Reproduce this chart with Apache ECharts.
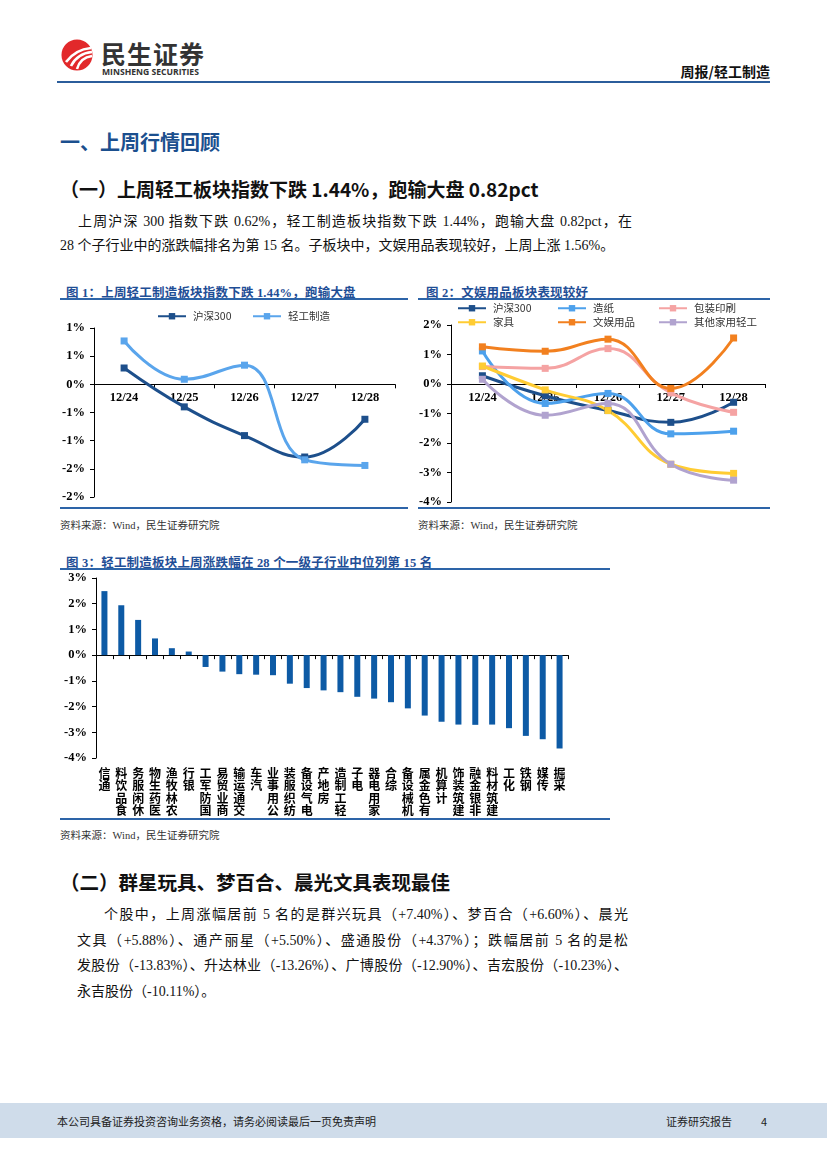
<!DOCTYPE html>
<html><head><meta charset="utf-8">
<script src="https://cdn.jsdelivr.net/npm/echarts@6/dist/echarts.min.js"></script>
<style>
html,body{margin:0;padding:0;background:#fff;}
#page{position:relative;width:827px;height:1169px;overflow:hidden;font-family:"Liberation Serif","Noto Sans CJK SC",serif;color:#111;}
.abs{position:absolute;white-space:nowrap;}
.hd{font-family:"Noto Sans CJK SC",sans-serif;font-weight:bold;}
.p{font-size:14px;line-height:17px;}
.j{text-align:justify;text-align-last:justify;white-space:normal;}
.ct{font-family:"Liberation Serif","Noto Sans CJK SC",serif;font-weight:bold;font-size:12.5px;letter-spacing:0.2px;color:#1f4e96;}
.src{font-size:10.5px;color:#333;}
.ln{position:absolute;height:2px;background:#2d64a8;}
#chart{position:absolute;left:0;top:0;width:827px;height:1169px;}
</style></head>
<body><div id="page">
<svg class="abs" style="left:60px;top:38px" width="36" height="36" viewBox="0 0 36 36">
<circle cx="17" cy="17" r="15.5" fill="#e2292b"/>
<path d="M6 24 C12 16 20 11 31 10" stroke="#fff" stroke-width="2.6" fill="none"/>
<path d="M11 28 C15 20 22 15 32 14" stroke="#fff" stroke-width="2.6" fill="none"/>
<path d="M17 31 C19 24 24 19 32 18" stroke="#fff" stroke-width="2.6" fill="none"/>
</svg>
<div class="abs hd" style="left:101px;top:35px;font-size:25px;letter-spacing:1px;color:#333;">民生证券</div>
<div class="abs" style="left:102px;top:66px;font-family:'Open Sans',sans-serif;font-weight:bold;font-size:8.6px;color:#333;">MINSHENG SECURITIES</div>
<div class="abs hd" style="right:57px;top:61px;font-size:14px;color:#111;">周报/轻工制造</div>
<div class="ln" style="left:57px;top:81px;width:713px;background:#2b5d9b;"></div>

<div class="abs hd" style="left:60px;top:127px;font-size:20px;color:#1b4f8e;">一、上周行情回顾</div>
<div class="abs hd" style="left:60px;top:175px;font-size:19px;color:#111;">（一）上周轻工板块指数下跌 1.44%，跑输大盘 0.82pct</div>
<div class="abs p j" style="left:78px;top:213px;width:554px;">上周沪深 300 指数下跌 0.62%，轻工制造板块指数下跌 1.44%，跑输大盘 0.82pct，在</div>
<div class="abs p" style="left:60px;top:237px;">28 个子行业中的涨跌幅排名为第 15 名。子板块中，文娱用品表现较好，上周上涨 1.56%。</div>

<div class="abs ct" style="left:66px;top:282px;">图 1：上周轻工制造板块指数下跌 1.44%，跑输大盘</div>
<div class="ln" style="left:60px;top:298px;width:348px;"></div>
<div class="ln" style="left:60px;top:507px;width:348px;"></div>
<div class="abs src" style="left:60px;top:517px;">资料来源：Wind，民生证券研究院</div>

<div class="abs ct" style="left:426px;top:282px;">图 2：文娱用品板块表现较好</div>
<div class="ln" style="left:418px;top:298px;width:352px;"></div>
<div class="ln" style="left:418px;top:507px;width:352px;"></div>
<div class="abs src" style="left:418px;top:517px;">资料来源：Wind，民生证券研究院</div>

<div class="abs ct" style="left:66px;top:552px;">图 3：轻工制造板块上周涨跌幅在 28 个一级子行业中位列第 15 名</div>
<div class="ln" style="left:60px;top:568px;width:550px;"></div>
<div class="ln" style="left:60px;top:818px;width:550px;"></div>
<div class="abs src" style="left:60px;top:827px;">资料来源：Wind，民生证券研究院</div>

<div class="abs hd" style="left:60px;top:867px;font-size:19.5px;color:#111;">（二）群星玩具、梦百合、晨光文具表现最佳</div>
<div class="abs p j" style="left:104px;top:906px;width:524px;">个股中，上周涨幅居前 5 名的是群兴玩具（+7.40%）、梦百合（+6.60%）、晨光</div>
<div class="abs p j" style="left:77px;top:932px;width:551px;">文具（+5.88%）、通产丽星（+5.50%）、盛通股份（+4.37%）；跌幅居前 5 名的是松</div>
<div class="abs p j" style="left:77px;top:957px;width:551px;">发股份（-13.83%）、升达林业（-13.26%）、广博股份（-12.90%）、吉宏股份（-10.23%）、</div>
<div class="abs p" style="left:77px;top:983px;">永吉股份（-10.11%）。</div>

<div class="abs" style="left:0;top:1103px;width:827px;height:35px;background:#cfdcea;"></div>
<div class="abs" style="left:57px;top:1113px;font-family:'Noto Sans CJK SC',sans-serif;font-size:11px;color:#222;">本公司具备证券投资咨询业务资格，请务必阅读最后一页免责声明</div>
<div class="abs" style="left:666px;top:1113px;font-family:'Noto Sans CJK SC',sans-serif;font-size:11px;color:#222;">证券研究报告</div>
<div class="abs" style="left:761px;top:1113px;font-family:'Noto Sans CJK SC',sans-serif;font-size:11px;color:#222;">4</div>

<div id="chart"></div>
</div>
<script>
// ---- Data ----
const dates = ['12/24','12/25','12/26','12/27','12/28'];
const hs300 = [0.29, -0.40, -0.91, -1.29, -0.62];
const qgzz = [0.77, 0.09, 0.34, -1.34, -1.44];

const hs300b = [0.28, -0.40, -0.90, -1.30, -0.62];
const zaozhi = [1.12, -0.66, -0.32, -1.69, -1.60];
const baozhuang = [0.59, 0.53, 1.20, -0.30, -0.96];
const jiaju = [0.61, -0.20, -0.90, -2.72, -3.03];
const wenyu = [1.26, 1.11, 1.52, -0.15, 1.56];
const qita = [0.16, -1.06, -0.66, -2.72, -3.26];

const industries = ['通信','食品饮料','休闲服务','医药生物','农林牧渔','银行','国防军工','商业贸易','交通运输','汽车','公用事业','纺织服装','电气设备','房地产','轻工制造','电子','家用电器','综合','机械设备','有色金属','计算机','建筑装饰','非银金融','建筑材料','化工','钢铁','传媒','采掘'];
const industryChg = [2.49, 1.94, 1.37, 0.65, 0.27, 0.14, -0.46, -0.64, -0.74, -0.76, -0.78, -1.11, -1.28, -1.37, -1.44, -1.62, -1.69, -1.83, -2.07, -2.35, -2.59, -2.70, -2.71, -2.70, -2.84, -3.14, -3.27, -3.63];

// axis ranges
const y1Range = {min:-2, max:1, interval:0.5};
const y2Range = {min:-4, max:2, interval:1};
const y3Range = {min:-4, max:3, interval:1};

// ---- Layout ----
const grid1 = {left:94, top:328, width:301, height:169};
const grid2 = {left:451, top:325, width:314, height:177};
const grid3 = {left:96, top:578, width:472, height:180};
// put the category axis on the zero line (distance from grid bottom to value 0)
const zeroOffset = (g, r) => -g.height * (0 - r.min) / (r.max - r.min);

const axisFont = {fontFamily:'Liberation Serif', fontWeight:'bold', fontSize:12.5, color:'#000'};
const blk = {lineStyle:{color:'#000', width:1}};
function pct(v){ const r = Math.sign(v)*Math.round(Math.abs(v)); return (r===0?0:r) + '%'; }

function lineSeries(name, data, color, xi, yi){
  return {type:'line', name, data, xAxisIndex:xi, yAxisIndex:yi, smooth:0.45,
    symbol:'rect', symbolSize:7, showSymbol:true,
    lineStyle:{color, width:3}, itemStyle:{color}, z: 3};
}
function leg(name, left, top){
  return {data:[name], left, top, itemWidth:28, itemHeight:8, itemGap:0, padding:0,
    textStyle:{fontFamily:'Noto Sans CJK SC', fontSize:10.5, color:'#333', padding:[0,0,0,2]}};
}
function dateAxis(gi, g, r){
  return {type:'category', gridIndex:gi, data:dates, boundaryGap:true, position:'bottom',
    offset: zeroOffset(g, r),
    axisLine:{onZero:false, ...blk}, axisTick:{show:true, interval:0, length:4, lineStyle:{color:'#000'}},
    axisLabel:{...axisFont, margin:7}};
}
function valAxis(gi, r){
  return {type:'value', gridIndex:gi, ...r,
    axisLine:{show:true, ...blk}, axisTick:{show:true, length:4, lineStyle:{color:'#000'}},
    splitLine:{show:false}, axisLabel:{...axisFont, margin:9, formatter:pct}};
}

const chart = echarts.init(document.getElementById('chart'), null, {renderer:'canvas'});
chart.setOption({
  animation:false,
  backgroundColor:'transparent',
  legend:[
    leg('沪深300 ', 157, 311), leg('轻工制造', 252, 311),
    leg('沪深300', 457, 303), leg('造纸', 557, 303), leg('包装印刷', 658, 303),
    leg('家具', 457, 317), leg('文娱用品', 557, 317), leg('其他家用轻工', 658, 317)
  ],
  grid:[grid1, grid2, grid3],
  xAxis:[
    dateAxis(0, grid1, y1Range),
    dateAxis(1, grid2, y2Range),
    {type:'category', gridIndex:2, data:industries, position:'bottom',
     axisLine:{show:false, onZero:false}, axisTick:{show:false},
     axisLabel:{interval:0, margin:9, fontFamily:'Noto Sans CJK SC', fontWeight:'bold', fontSize:12, lineHeight:12.5, color:'#000',
       verticalAlign:'top', formatter:v=>v.split('').reverse().join('\n')}},
    {type:'category', gridIndex:2, data:industries, position:'bottom', offset: zeroOffset(grid3, y3Range),
     axisLine:{show:true, onZero:false, ...blk}, axisTick:{show:true, interval:0, length:4, lineStyle:{color:'#000'}},
     axisLabel:{show:false}}
  ],
  yAxis:[valAxis(0, y1Range), valAxis(1, y2Range), valAxis(2, y3Range)],
  series:[
    lineSeries('沪深300 ', hs300, '#1d4f8b', 0, 0),
    lineSeries('轻工制造', qgzz, '#5aa5ec', 0, 0),
    lineSeries('沪深300', hs300b, '#1d4f8b', 1, 1),
    lineSeries('造纸', zaozhi, '#4da1ec', 1, 1),
    lineSeries('包装印刷', baozhuang, '#f5a3a3', 1, 1),
    lineSeries('家具', jiaju, '#ffcc33', 1, 1),
    lineSeries('文娱用品', wenyu, '#f2801f', 1, 1),
    lineSeries('其他家用轻工', qita, '#b1a3cf', 1, 1),
    {type:'bar', name:'涨跌幅', data:industryChg, xAxisIndex:2, yAxisIndex:2, barWidth:6,
     itemStyle:{color:'#0d5aa5'}}
  ]
});
</script>
</body></html>
